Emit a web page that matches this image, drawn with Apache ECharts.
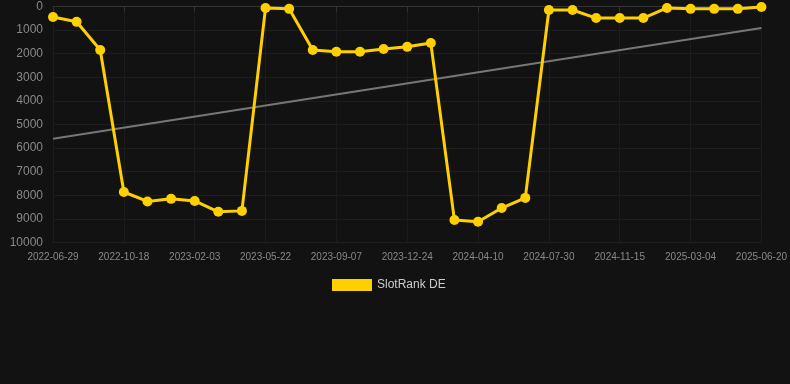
<!DOCTYPE html>
<html><head><meta charset="utf-8">
<script src="https://cdn.jsdelivr.net/npm/echarts@6/dist/echarts.min.js"></script>
<style>html,body{margin:0;padding:0;background:#121212;}#c{width:790px;height:384px;}</style>
</head><body><div id="c"></div>
<script>
const categories = ['2022-06-29','2022-08-04','2022-09-11','2022-10-18','2022-11-23','2022-12-29','2023-02-03','2023-03-11','2023-04-16','2023-05-22','2023-06-27','2023-08-02','2023-09-07','2023-10-13','2023-11-18','2023-12-24','2024-01-29','2024-03-05','2024-04-10','2024-05-17','2024-06-23','2024-07-30','2024-09-04','2024-10-10','2024-11-15','2024-12-21','2025-01-26','2025-03-04','2025-04-09','2025-05-15','2025-06-20'];
const rankValues = [445,650,1840,7860,8260,8150,8240,8700,8660,60,100,1840,1920,1920,1800,1710,1550,9050,9120,8540,8110,150,150,490,490,490,60,100,100,100,20];
const trendStart = 5600;
const trendEnd = 910;
const trendValues = categories.map((c,i)=> i===0 ? trendStart : (i===categories.length-1 ? trendEnd : null));
const seriesName = 'SlotRank DE';

const chart = echarts.init(document.getElementById('c'));
chart.setOption({
  backgroundColor:'#121212',
  animation:false,
  grid:{left:53,right:28,top:6.5,bottom:141.5,containLabel:false},
  legend:{data:[seriesName],top:274,left:327,itemWidth:40,itemHeight:12,itemGap:10,
    textStyle:{color:'#cccccc',fontSize:12,fontFamily:'Arial, Liberation Sans, sans-serif'},
    icon:'rect'},
  xAxis:{type:'category',data:categories,boundaryGap:false,
    axisLine:{lineStyle:{color:'#333'}},
    axisTick:{show:true,interval:2,lineStyle:{color:'#333'}},
    axisLabel:{interval:2,color:'#888',fontSize:10,margin:10,fontFamily:'Arial, Liberation Sans, sans-serif'},
    splitLine:{show:true,interval:2,lineStyle:{color:'#1c1c1c'}}},
  yAxis:{type:'value',inverse:true,min:0,max:10000,interval:1000,
    axisLine:{show:false},axisTick:{show:false},
    axisLabel:{color:'#888',fontSize:12,margin:10,formatter:v=>String(v),fontFamily:'Arial, Liberation Sans, sans-serif'},
    splitLine:{lineStyle:{color:'#1e1e1e'}}},
  series:[
    {name:seriesName,type:'line',data:rankValues,color:'#FFD000',
      lineStyle:{width:3,color:'#FFD000'},symbol:'circle',symbolSize:10,
      itemStyle:{color:'#FFD000'},z:3},
    {name:'trend',type:'line',data:trendValues,connectNulls:true,symbol:'none',
      lineStyle:{width:2,color:'#777'},z:2}
  ]
});
</script></body></html>
